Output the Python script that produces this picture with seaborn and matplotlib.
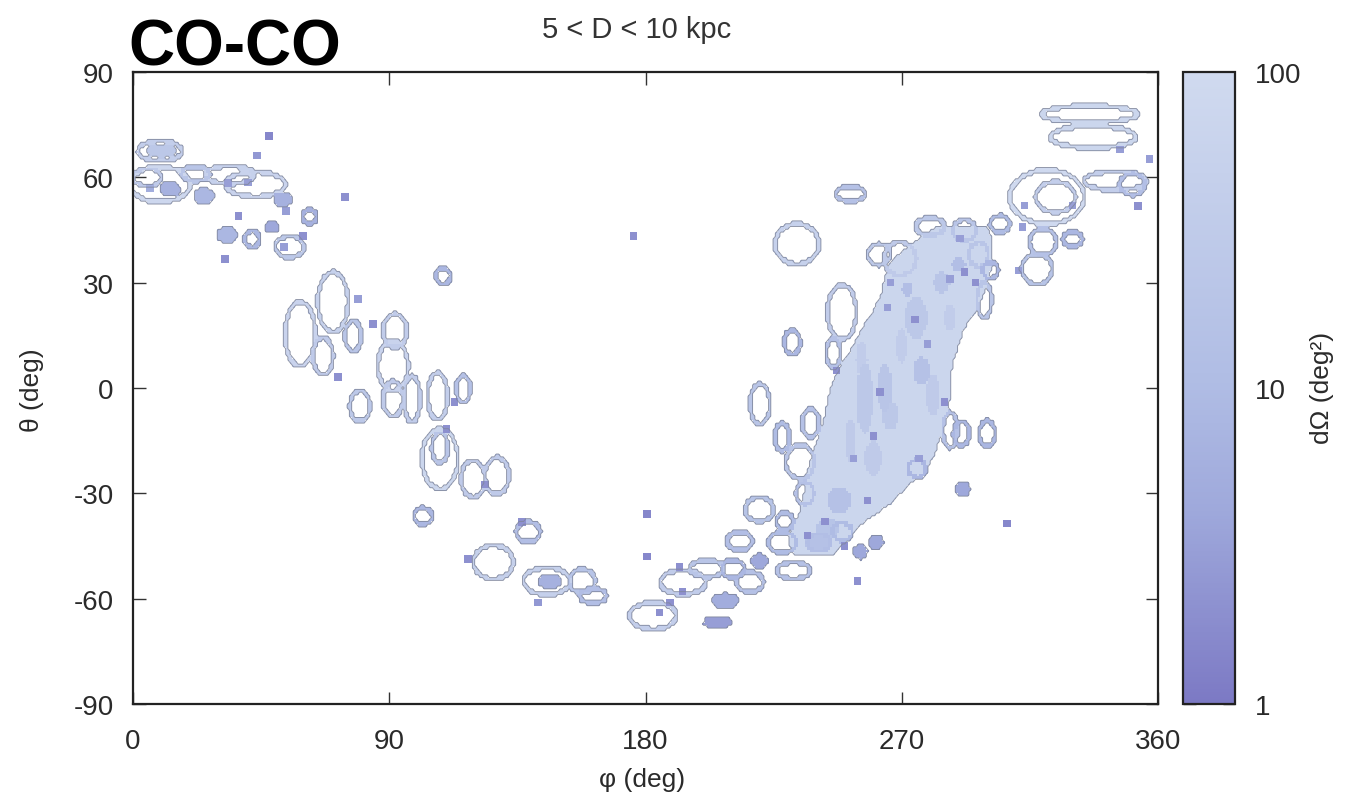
import numpy as np
import matplotlib
matplotlib.use("Agg")
import matplotlib.pyplot as plt
import seaborn as sns
import pandas as pd
from matplotlib.colors import LinearSegmentedColormap, LogNorm
from matplotlib.path import Path
from matplotlib.cm import ScalarMappable
from matplotlib.ticker import LogLocator, NullFormatter, FixedLocator

# ---------------- data ----------------
# error-region rings: centre (phi, theta), semi-axes (deg), solid angle dOmega (deg^2)
ring_phi = [9.5, 10, 9.5, 5, 13, 22, 34, 43, 25, 52.7, 33, 41.8, 55, 62, 48.8,
            58.7, 66.7, 70.2, 77.3, 79.7, 92, 91.3, 91.3, 98, 107, 116, 109, 107.8, 107.8, 119.4, 127.8, 101.9,
            138.8, 126.5, 145.4, 146.5, 157.7, 161.6, 182.6, 193.2, 201.6, 210.7, 216.7, 208, 205.5, 220, 213,
            232, 220, 228, 234.3, 255.4, 261, 228,
            233.2, 252, 231.5, 220.2, 249, 291, 300, 291.5, 275.4,
            336, 337.2, 321, 324, 345, 351, 330, 319.6, 317.5, 304.5, 301, 269.4,
            280, 292, 297, 299, 246, 238, 236, 229, 241, 249, 287, 262]
ring_theta = [67.5, 67.5, 58, 60, 56.7, 61, 60.7, 58, 54.7, 53.8, 43.6, 42.4, 40.2, 48.7, 45.9,
              15.4, 9.1, 24.5, 14.8, -5.1, 16.2, 6.3, -3.1, -3.1, -2.3, -0.3, 31.9, -20.2, -17, -25.9, -25, -36.5,
              -41, -49.6, -55, -55, -55, -59.2, -64.9, -55.3, -51.5, -51.5, -55.3, -60.7, -66.7, -34.5, -43.6,
              -52, -49.3, -44, -21, -46.7, -43.9, -14,
              41, 55.3, 13.1, -4.6, 21.6, -13, -13, -28.8, -23,
              78, 71.5, 54.4, 54.4, 59, 58, 42.4, 41.6, 33.9, 46.7, 33.5, 36.8,
              46, 45, 38, 25, 10, -10, -30, -38, -44, -41, -12, 38]
ring_a = [7.7, 4.5, 10.5, 5, 3, 5, 8.5, 10.5, 3, 2.8, 2.8, 2.5, 5, 2.5, 2.0,
          5.3, 3.5, 5.3, 2.8, 3.5, 4.2, 5.3, 3.5, 2.8, 3.5, 2.5, 2.5, 6.3, 2.8, 4.2, 4.2, 3.2,
          4.2, 7, 8.2, 3.5, 4.6, 4.7, 8.2, 8, 6, 4, 4.7, 3.9, 4.3, 5, 4.4,
          5.8, 2.5, 5, 5, 2, 2, 2.5,
          7.7, 5.3, 2.8, 3.5, 5, 2.8, 2.8, 2, 3,
          16.5, 15, 13, 7, 11, 4.5, 3.5, 4.7, 5.3, 3.5, 2.8, 5.6,
          5, 4, 3.5, 2.5, 2.5, 3, 3, 3, 4, 3.5, 2.5, 4]
ring_b = [2.8, 1.3, 5, 2.5, 1.5, 2, 2.5, 3.5, 1.7, 1.5, 1.7, 2.3, 3, 2, 1.2,
          9.1, 5.2, 8.5, 4.3, 4.3, 4.8, 7.1, 5, 6.6, 6.6, 3.8, 2.3, 8.5, 4.3, 5.2, 5.2, 2.3,
          2.8, 4.8, 3.8, 1.5, 3.4, 2.1, 3.8, 3.4, 2.3, 2.5, 2.8, 1.7, 1.0, 3.4, 2.6,
          2.3, 1.5, 3, 4.8, 1.5, 1.5, 4,
          5.7, 2, 3.4, 5.7, 7.7, 3.4, 3.6, 1.7, 2.5,
          2.3, 3.1, 7.7, 4.3, 2.6, 3, 2, 3.7, 4.3, 2.3, 2.3, 4.8,
          2.5, 3, 3.5, 5, 4, 4, 3, 2.5, 2.5, 2.5, 5, 3]
ring_area = [40, 25, 80, 30, 6, 20, 50, 60, 8, 6, 8, 8, 25, 6, 4,
             60, 30, 50, 20, 25, 35, 60, 30, 35, 40, 15, 8, 70, 20, 30, 30, 8,
             12, 45, 45, 6, 18, 12, 40, 35, 20, 8, 15, 5, 3, 18, 12,
             15, 4, 10, 20, 4, 4, 10,
             50, 15, 8, 20, 35, 8, 8, 4, 8,
             70, 70, 90, 40, 40, 12, 8, 15, 18, 10, 8, 30,
             25, 20, 20, 20, 15, 15, 15, 10, 12, 10, 15, 25]

# dense overlap region near the Galactic bulge: outline as theta slices with phi span
blob_theta = [-48, -43, -38, -33, -28, -23, -18, -13, -8, -3, 2, 7, 12, 17, 22, 27, 32, 37, 42, 46]
blob_phi_lo = [232, 230, 233, 235, 236, 237, 239, 241, 243, 244, 246, 249, 253, 256, 260, 263, 264, 267, 275, 282]
blob_phi_hi = [246, 251, 257, 266, 272, 279, 282, 284, 286, 287, 287, 288, 290, 292, 296, 299, 301, 302, 302, 300]
blob_area = 70

# darker overlapping patches inside the dense region
patch_phi = [257, 264, 275, 277, 248, 244, 266, 284, 272, 290, 260, 281, 252, 270, 240, 287, 256]
patch_theta = [-3, 0, 20, 5, -32, -40, -8, 30, 28, 35, -20, -2, -15, 12, -44, 20, 8]
patch_a = [3, 2.5, 4, 3, 4, 4, 3, 3, 2, 2.5, 3, 2.5, 2, 2, 4, 2, 2]
patch_b = [10, 7, 6, 4, 4, 3, 4, 3, 2, 2, 5, 6, 6, 5, 2.5, 4, 5]
patch_area = [25, 20, 25, 15, 15, 18, 25, 20, 12, 12, 30, 30, 30, 35, 15, 35, 35]

# compact (well-localised) sources
pt_phi = [6, 33.4, 40.4, 53.7, 43.5, 47.8, 74.5, 37, 32.3, 59.7, 53, 79, 84.3, 72, 113, 110, 123.6,
          136.6, 117.7, 142.3, 180.5, 180.5, 185, 188.6, 192, 193, 254.4, 346.7, 357, 330, 313, 353,
          312.3, 311, 307, 175.7, 260, 262.4, 265, 274.7, 279, 287, 290.5, 292, 258, 250, 253, 276,
          285, 247, 243, 237, 266, 296]
pt_theta = [57, 58.4, 58.6, 50.4, 66.3, 71.8, 54.4, 49, 36.7, 43.3, 40.2, 25.3, 18.2, 3.1, -4, -11.7, -27.4,
            -38.2, -48.7, -61, -35.9, -47.9, -64, -61, -51, -58, -55, 68, 65.2, 52, 52, 51.8,
            45.9, 33.5, -38.5, 43.3, -13.7, -1.1, 23, 19.6, 12.5, 31, 42.5, 33, -32, -45, -20, -20,
            -4, 5, -38, -42, 30, 30]
pt_area = [5, 3, 3, 3, 2.5, 1.5, 2, 2, 2, 2, 3, 3, 2, 2, 2, 2, 2,
           2, 2, 2.5, 1.5, 1.5, 2, 2, 2, 2, 2, 3, 3, 3, 3, 2,
           3, 3, 1.5, 2, 2, 2, 3, 2, 3, 3, 3, 2, 2, 2, 3, 3,
           2, 2, 2, 2, 3, 2]

title_txt = "5 < D < 10 kpc"
panel_txt = "CO-CO"
x_ticks = [0, 90, 180, 270, 360]
y_ticks = [-90, -60, -30, 0, 30, 60, 90]
cb_ticks = [1, 10, 100]

# ---------------- style ----------------
sns.set_style("ticks")
plt.rcParams['font.family'] = ['Liberation Sans', 'DejaVu Sans']
plt.rcParams['axes.unicode_minus'] = False
txt_col = '#2a2a2a'

cmap = LinearSegmentedColormap.from_list(
    "dom", [(0.0, "#7c79c4"), (0.3, "#9ea8db"), (0.5, "#afbce4"), (1.0, "#d0daef")])
norm = LogNorm(vmin=1, vmax=100)

# ---------------- rasterise regions ----------------
step = 0.8
phi_c = np.arange(step / 2, 360, step)
th_c = np.arange(-90 + step / 2, 90, step)
P, T = np.meshgrid(phi_c, th_c)
V = np.full(P.shape, np.nan)
hw = 0.65

def stamp(mask, val):
    V[mask] = np.fmin(V[mask], val)

for p0, t0, a, b, s in zip(ring_phi, ring_theta, ring_a, ring_b, ring_area):
    dx = (P - p0) / a
    dy = (T - t0) / b
    r = np.hypot(dx, dy)
    g = np.hypot(dx / a, dy / b) / np.maximum(r, 1e-6)
    d = (r - 1) / np.maximum(g, 1e-6)
    m = np.abs(d) < hw
    if min(a, b) < 1.8:
        m |= r <= 1
    stamp(m, s)

verts = list(zip(blob_phi_lo, blob_theta)) + list(zip(blob_phi_hi[::-1], blob_theta[::-1]))
bpath = Path(verts + [verts[0]], closed=True)
inside = bpath.contains_points(np.column_stack([P.ravel(), T.ravel()])).reshape(P.shape)
stamp(inside, blob_area)

for p0, t0, a, b, s in zip(patch_phi, patch_theta, patch_a, patch_b, patch_area):
    r = np.hypot((P - p0) / a, (T - t0) / b)
    stamp(r <= 1, s)

# ---------------- figure ----------------
W, H = 1364, 803
fig = plt.figure(figsize=(W / 100, H / 100), dpi=100)
ax = fig.add_axes([133 / W, 1 - 705 / H, 1025 / W, 632 / H])
cax = fig.add_axes([1183 / W, 1 - 705 / H, 52 / W, 632 / H])

phi_e = np.arange(0, 360 + step / 2, step)
th_e = np.arange(-90, 90 + step / 2, step)
ax.pcolormesh(phi_e, th_e, np.ma.masked_invalid(V), cmap=cmap, norm=norm,
              shading='flat', rasterized=True)
ax.contour(phi_c, th_c, (~np.isnan(V)).astype(float), levels=[0.5],
           colors='#7f869c', linewidths=0.7, alpha=0.85)

pts = pd.DataFrame({"phi": pt_phi, "theta": pt_theta, "area": pt_area})
sns.scatterplot(data=pts, x="phi", y="theta", hue="area", palette=cmap, hue_norm=norm,
                marker="s", s=28, linewidth=0, legend=False, ax=ax)

ax.set_xlim(0, 360)
ax.set_ylim(-90, 90)
ax.set_xticks(x_ticks)
ax.set_yticks(y_ticks)
ax.set_xlabel("")
ax.set_ylabel("")
ax.tick_params(direction='in', length=9, width=1.0, top=True, right=True,
               labelsize=20, labelcolor=txt_col, color='#333333')
ax.tick_params(axis='x', pad=17)
ax.tick_params(axis='y', pad=14)
for sp in ax.spines.values():
    sp.set_linewidth(1.6)
    sp.set_color('#222222')

# colour bar
sm = ScalarMappable(norm=norm, cmap=cmap)
cb = fig.colorbar(sm, cax=cax)
cb.outline.set_linewidth(1.6)
cb.outline.set_edgecolor('#222222')
cax.yaxis.set_major_locator(FixedLocator(cb_ticks))
cax.yaxis.set_minor_locator(LogLocator(base=10, subs=np.arange(2, 10)))
cax.yaxis.set_minor_formatter(NullFormatter())
cax.set_yticklabels([str(t) for t in cb_ticks])
cax.tick_params(which='major', direction='in', length=9, width=1.0, left=True, right=True,
                labelsize=20, labelcolor=txt_col, pad=14)
cax.tick_params(which='minor', direction='in', length=5, width=0.8, left=True, right=True)

# texts
fig.text(128 / W, 1 - 66 / H, panel_txt, fontsize=46, fontweight='bold', va='baseline', color='black')
fig.text(637 / W, 1 - 30 / H, title_txt, fontsize=21, ha='center', va='center', color='#333333')
fig.text(642 / W, 1 - 780 / H, "φ (deg)", fontsize=19, ha='center', va='center', color=txt_col)
fig.text(32 / W, 1 - 390 / H, "θ (deg)", fontsize=19, ha='center', va='center', rotation=90, color=txt_col)
fig.text(1322 / W, 1 - 388 / H, "dΩ (deg²)", fontsize=19, ha='center', va='center', rotation=90, color=txt_col)

fig.savefig("out.png", dpi=100)
